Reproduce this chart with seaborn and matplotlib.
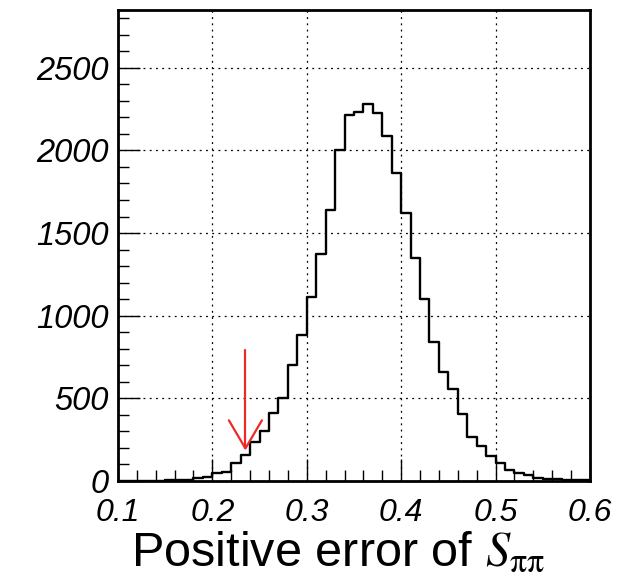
import numpy as np
import pandas as pd
import matplotlib
matplotlib.use("Agg")
import matplotlib.pyplot as plt
import seaborn as sns
from matplotlib.ticker import MultipleLocator

# ---- data ----
bin_edges = [round(0.10 + 0.01 * i, 2) for i in range(51)]
bin_centers = [round(0.105 + 0.01 * i, 3) for i in range(50)]
counts = [0, 0, 0, 1, 2, 3, 5, 8, 16, 26,
          46, 56, 106, 158, 233, 303, 414, 500, 703, 882,
          1116, 1371, 1639, 2005, 2216, 2234, 2282, 2224, 2089, 1863,
          1622, 1351, 1104, 843, 659, 554, 408, 267, 211, 152,
          110, 64, 48, 34, 20, 14, 10, 7, 5, 3]
x_ticks = [0.1, 0.2, 0.3, 0.4, 0.5, 0.6]
y_ticks = [0, 500, 1000, 1500, 2000, 2500]
arrow_x = 0.235
arrow_top = 795
arrow_tip = 197

df = pd.DataFrame({"err": bin_centers, "n": counts})

sns.set_style("white")
plt.rcParams.update({
    "mathtext.fontset": "stix",
    "text.color": "black",
    "axes.labelcolor": "black",
    "xtick.color": "black",
    "ytick.color": "black",
    "xtick.bottom": True,
    "ytick.left": True,
    "xtick.top": False,
    "ytick.right": False,
})

fig = plt.figure(figsize=(6.35, 5.84), dpi=100)
ax = fig.add_axes([0.1858, 0.1764, 0.7432, 0.8066])

sns.histplot(data=df, x="err", weights="n", bins=bin_edges, element="step",
             fill=False, color="black", linewidth=1.7, ax=ax)

ax.set_xlim(0.1, 0.6)
ax.set_ylim(0, 2850)
ax.xaxis.set_ticks_position("bottom")
ax.yaxis.set_ticks_position("left")
ax.set_xticks(x_ticks)
ax.set_yticks(y_ticks)
ax.set_xticklabels([f"{v:.1f}" for v in x_ticks], fontfamily="Liberation Sans",
                   fontstyle="italic", fontsize=23)
ax.set_yticklabels([str(v) for v in y_ticks], fontfamily="Liberation Sans",
                   fontstyle="italic", fontsize=23.5)
ax.xaxis.set_minor_locator(MultipleLocator(0.02))
ax.yaxis.set_minor_locator(MultipleLocator(100))
ax.tick_params(axis="x", which="major", pad=12)
ax.tick_params(axis="y", which="major", pad=7)
ax.tick_params(which="major", direction="in", length=16, width=1.0,
               top=False, right=False, bottom=True, left=True)
ax.tick_params(which="minor", direction="in", length=8, width=1.0,
               top=False, right=False, bottom=True, left=True)
ax.grid(True, which="major", color="black", linestyle=(0, (1.5, 3.5)),
        linewidth=0.9)
for s in ax.spines.values():
    s.set_linewidth(2.0)
    s.set_color("black")

ax.set_xlabel(r"Positive error of $S_{\mathrm{\pi\pi}}$",
              fontfamily="Liberation Sans", fontsize=35, labelpad=0)
ax.xaxis.set_label_coords(0.465, -0.105, transform=ax.transAxes)
ax.xaxis.label.set_va("top")
ax.set_ylabel("")

# red arrow annotation
red = "#ec2a26"
ax.plot([arrow_x, arrow_x], [arrow_top, arrow_tip], color=red, lw=1.6)
ax.plot([arrow_x - 0.0175, arrow_x, arrow_x + 0.0175],
        [arrow_tip + 170, arrow_tip, arrow_tip + 170], color=red, lw=1.6)

fig.savefig("out.png", dpi=100)
